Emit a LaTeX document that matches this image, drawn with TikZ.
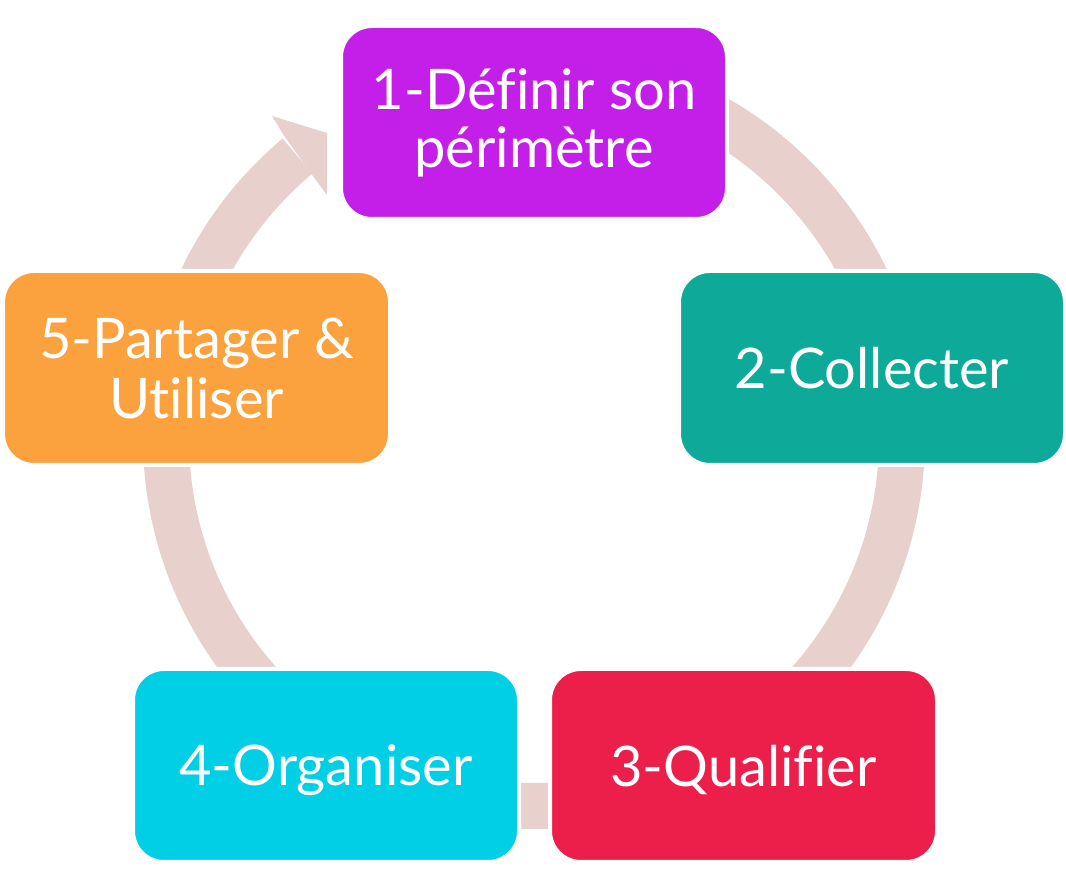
\documentclass[tikz,border=0pt]{standalone}
\usepackage{fontspec}
\setmainfont{Lato}[Ligatures={NoCommon,NoRare}]
\definecolor{ringc}{HTML}{E8D1CD}
\definecolor{c1}{HTML}{C41FE8}
\definecolor{c2}{HTML}{0DAA9A}
\definecolor{c3}{HTML}{EB1F4A}
\definecolor{c4}{HTML}{00CFE5}
\definecolor{c5}{HTML}{FBA13D}
\tikzset{
  stepbox/.style={draw=white, line width=4pt, rounded corners=31pt, text=white,
    align=center, inner sep=0pt, font=\fontsize{56}{58}\selectfont},
  ring/.style={draw=ringc, line width=46pt},
}
\begin{document}
\begin{tikzpicture}[x=1pt,y=1pt]
\useasboundingbox (0,0) rectangle (1066,889);
\coordinate (ctr) at (534,451);
% ring
\draw[ring] (ctr) ++(130:368) arc[start angle=130, end angle=440, radius=368];
\fill[ringc] (284.5,752.5) -- (272,773) -- (327,756) -- (327,694) -- (312.5,713.5) -- cycle;
% boxes
\node[stepbox, fill=c1, minimum width=386pt, minimum height=193pt] (n1) at (534,766.5)
  {1-Définir son\\périmètre};
\node[stepbox, fill=c2, minimum width=386pt, minimum height=194pt, text depth=0pt] (n2) at (872,521)
  {2-Collecter};
\node[stepbox, fill=c3, minimum width=387pt, minimum height=193pt, text depth=0pt] (n3) at (743.5,123.5)
  {3-Qualifier};
\node[stepbox, fill=c4, minimum width=386pt, minimum height=193pt, text depth=0pt] (n4) at (326,123.5)
  {4-Organiser};
\node[stepbox, fill=c5, minimum width=387pt, minimum height=194pt] (n5) at (196.5,521)
  {\raisebox{2pt}{5-Partager \&}\\Utiliser};
\end{tikzpicture}
\end{document}
